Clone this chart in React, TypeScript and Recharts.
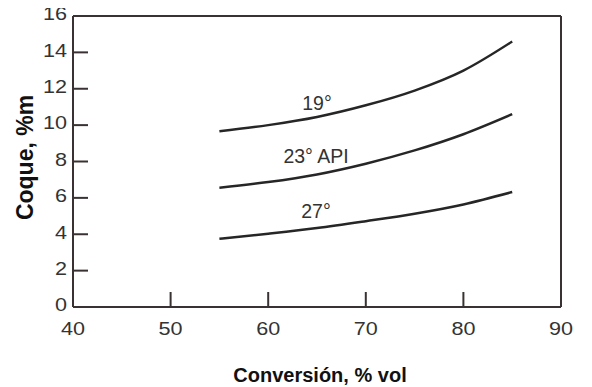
import React from "react";
import { LineChart, Line, XAxis, YAxis, ReferenceLine, ReferenceDot, Label } from "recharts";

const conversion = [55, 60, 65, 70, 75, 80, 85];
const coque19 = [9.66, 10.0, 10.45, 11.09, 11.9, 13.0, 14.6];
const coque23 = [6.56, 6.87, 7.29, 7.88, 8.61, 9.5, 10.6];
const coque27 = [3.75, 4.03, 4.34, 4.72, 5.13, 5.64, 6.32];
const xTicks = [40, 50, 60, 70, 80, 90];
const yTicks = [0, 2, 4, 6, 8, 10, 12, 14, 16];
const curveLabels = [
  { x: 65.0, y: 11.2, text: "19°" },
  { x: 64.9, y: 8.3, text: "23° API" },
  { x: 64.9, y: 5.27, text: "27°" },
];

const data = conversion.map((c, i) => ({ c, a: coque19[i], b: coque23[i], d: coque27[i] }));

const TICK_COLOR = "#333";
const AXIS_COLOR = "#3a3232";

const XTick = (props: any) => {
  const { x, y, payload } = props;
  const v = payload.value;
  const inner = v !== 40 && v !== 90;
  return (
    <g>
      {inner && <line x1={x} y1={y} x2={x} y2={y - 15} stroke={AXIS_COLOR} strokeWidth={2} />}
      <text
        transform={`translate(${x},${y + 27.5}) scale(1.2,1)`}
        textAnchor="middle"
        fontSize={18}
        fontFamily="'Liberation Sans', Arial, sans-serif"
        fill={TICK_COLOR}
      >
        {v}
      </text>
    </g>
  );
};

const YTick = (props: any) => {
  const { x, y, payload } = props;
  const v = payload.value;
  const inner = v !== 0 && v !== 16;
  return (
    <g>
      {inner && <line x1={x} y1={y} x2={x + 15} y2={y} stroke={AXIS_COLOR} strokeWidth={2} />}
      <text
        transform={`translate(${x - 6},${y - 2}) scale(1.2,1)`}
        textAnchor="end"
        dominantBaseline="central"
        fontSize={18}
        fontFamily="'Liberation Sans', Arial, sans-serif"
        fill={TICK_COLOR}
      >
        {v}
      </text>
    </g>
  );
};

export default function App() {
  return (
    <div style={{ margin: "-8px 0 0 -8px", width: 592, height: 387 }}>
      <LineChart
        width={592}
        height={387}
        data={data}
        margin={{ top: 16, right: 31, left: 8, bottom: 0 }}
        style={{ fontFamily: "'Liberation Sans', Arial, sans-serif" }}
      >
        <XAxis
          dataKey="c"
          type="number"
          domain={[40, 90]}
          ticks={xTicks}
          height={80}
          tickSize={0}
          tickMargin={0}
          tickLine={false}
          tick={<XTick />}
          axisLine={{ stroke: AXIS_COLOR, strokeWidth: 2 }}
          interval={0}
        >
          <Label
            content={(p: any) => {
              const vb = p.viewBox;
              return (
                <text
                  x={vb.x + vb.width / 2 + 3}
                  y={vb.y + 75}
                  textAnchor="middle"
                  fontSize={20}
                  fontWeight="bold"
                  fill="#111"
                  fontFamily="'Liberation Sans', Arial, sans-serif"
                >
                  Conversión, % vol
                </text>
              );
            }}
          />
        </XAxis>
        <YAxis
          type="number"
          domain={[0, 16]}
          ticks={yTicks}
          width={65}
          tickSize={0}
          tickMargin={0}
          tickLine={false}
          tick={<YTick />}
          axisLine={{ stroke: AXIS_COLOR, strokeWidth: 2 }}
          interval={0}
        >
          <Label
            content={(p: any) => {
              const vb = p.viewBox;
              const cx = vb.x + 17;
              const cy = vb.y + vb.height / 2 - 4;
              return (
                <text
                  x={cx}
                  y={cy}
                  transform={`rotate(-90 ${cx} ${cy})`}
                  textAnchor="middle"
                  dominantBaseline="central"
                  fontSize={23}
                  fontWeight="bold"
                  fill="#111"
                  fontFamily="'Liberation Sans', Arial, sans-serif"
                >
                  Coque, %m
                </text>
              );
            }}
          />
        </YAxis>
        <ReferenceLine y={16} stroke={AXIS_COLOR} strokeWidth={2} />
        <ReferenceLine x={90} stroke={AXIS_COLOR} strokeWidth={2} />
        <Line dataKey="a" type="monotone" stroke="#262626" strokeWidth={2.5} dot={false} isAnimationActive={false} />
        <Line dataKey="b" type="monotone" stroke="#262626" strokeWidth={2.5} dot={false} isAnimationActive={false} />
        <Line dataKey="d" type="monotone" stroke="#262626" strokeWidth={2.5} dot={false} isAnimationActive={false} />
        {curveLabels.map((l) => (
          <ReferenceDot
            key={l.text}
            x={l.x}
            y={l.y}
            r={0}
            fill="none"
            stroke="none"
            label={{ value: l.text, position: "center", fontSize: 19.5, fill: "#333" }}
          />
        ))}
      </LineChart>
    </div>
  );
}
